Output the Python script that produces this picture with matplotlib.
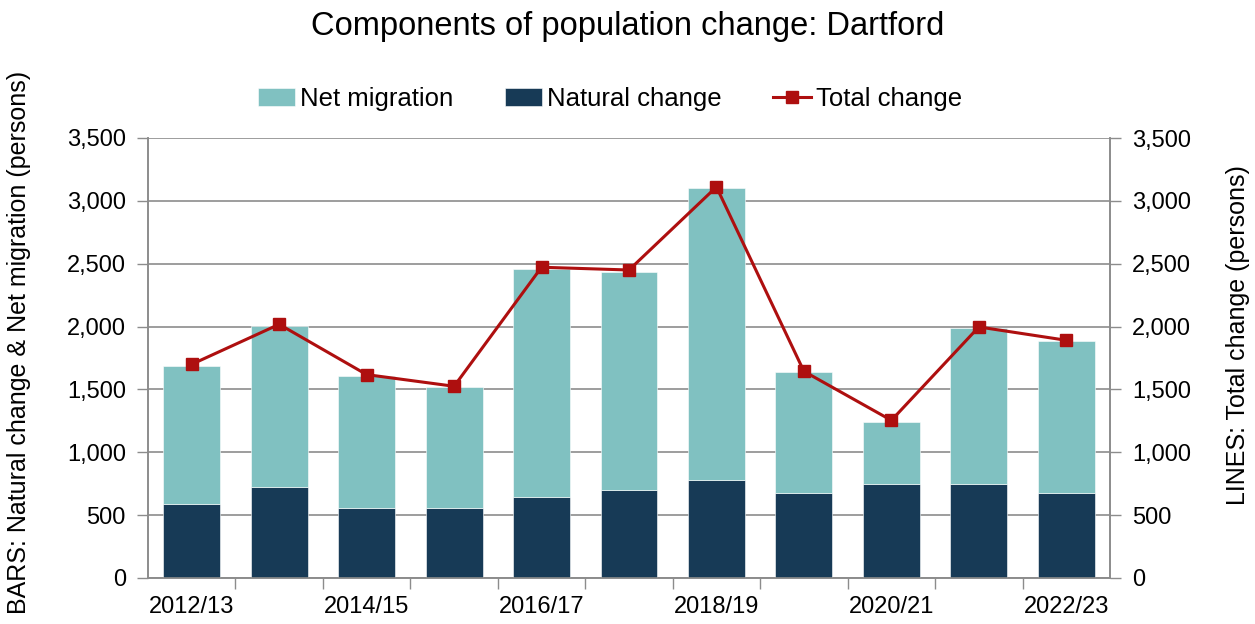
import matplotlib.pyplot as plt
import numpy as np
from matplotlib.ticker import FuncFormatter, FixedLocator

plt.rcParams['font.family'] = ['Liberation Sans', 'DejaVu Sans']

years = ['2012/13', '2013/14', '2014/15', '2015/16', '2016/17', '2017/18',
         '2018/19', '2019/20', '2020/21', '2021/22', '2022/23']
natural_change = [586, 724, 560, 560, 644, 700, 782, 679, 748, 748, 679]
net_migration = [1101, 1278, 1045, 962, 1817, 1737, 2323, 962, 493, 1243, 1206]
total_change = [1700, 2018, 1618, 1525, 2472, 2450, 3111, 1644, 1254, 1997, 1891]

c_net = '#80C1C1'
c_nat = '#173A56'
c_tot = '#AE0F0F'
c_grid = '#8C8C8C'

fig = plt.figure(figsize=(12.55, 6.24), dpi=100)
ax = fig.add_axes([148 / 1255, 46 / 624, 962 / 1255, 440 / 624])
ax2 = ax.twinx()

x = np.arange(len(years))
w = 0.65
b1 = ax.bar(x, natural_change, w, color=c_nat, edgecolor='white', linewidth=0.4,
            label='Natural change', zorder=3)
b2 = ax.bar(x, net_migration, w, bottom=natural_change, color=c_net,
            edgecolor='white', linewidth=0.4, label='Net migration', zorder=3)
ln, = ax2.plot(x, total_change, color=c_tot, lw=2.2, marker='s', ms=9,
               label='Total change', zorder=4)

for a in (ax, ax2):
    a.set_ylim(0, 3500)
    a.set_yticks(np.arange(0, 3501, 500))
    a.yaxis.set_major_formatter(FuncFormatter(lambda v, p: f'{int(v):,}'))
    a.tick_params(axis='y', labelsize=17, length=8, width=1, color=c_grid, pad=8)
    for s in a.spines.values():
        s.set_color(c_grid)
        s.set_linewidth(1.2)
    a.spines['top'].set_visible(False)
    a.set_xlim(-0.5, len(years) - 0.5)

ax.yaxis.grid(True, color=c_grid, lw=1.2, zorder=0)
ax.set_axisbelow(True)

ax.set_xticks(x[::2])
ax.set_xticklabels(years[::2])
ax.tick_params(axis='x', which='major', length=0, labelsize=17, pad=13)
ax.xaxis.set_minor_locator(FixedLocator(np.arange(0.5, len(years) - 0.5, 1)))
ax.tick_params(axis='x', which='minor', length=8, width=1, color=c_grid)

ax.set_ylabel('BARS: Natural change & Net migration (persons)', fontsize=18)
ax.yaxis.set_label_coords(-0.122, 0.535)
ax2.set_ylabel('LINES: Total change (persons)', fontsize=18, rotation=90)
ax2.yaxis.set_label_coords(1.121, 0.552)

fig.suptitle('Components of population change: Dartford', fontsize=23.5, y=0.982)

fig.legend([b2, b1, ln], ['Net migration', 'Natural change', 'Total change'],
           loc='center', bbox_to_anchor=(0.486, 0.842), ncol=3, frameon=False,
           fontsize=18.5, handlelength=1.45, handletextpad=0.2, columnspacing=2.0)

plt.savefig('out.png', dpi=100)
